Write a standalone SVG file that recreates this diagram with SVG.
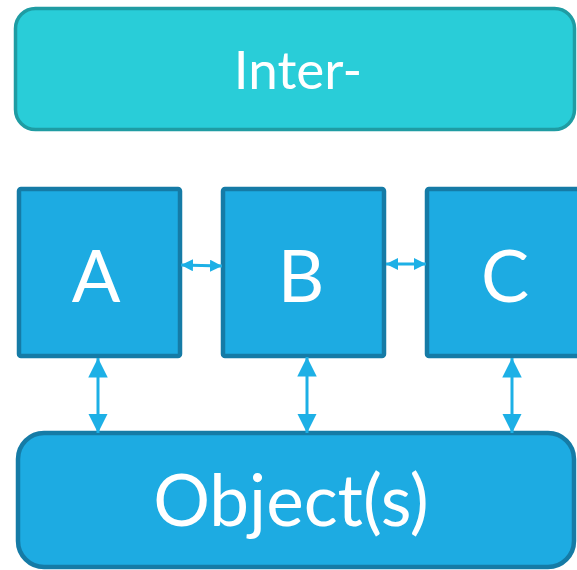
<svg xmlns="http://www.w3.org/2000/svg" width="577" height="570" viewBox="0 0 577 570">
<defs>
<style>
.top{fill:#29CDD8;stroke:#1F9CA3;stroke-width:3.5}
.box{fill:#1DABE2;stroke:#157BA6;stroke-width:4.5}
.lbl{fill:#fff;font-family:Lato,"Noto Sans",sans-serif;font-weight:400;text-anchor:middle}
.conn{stroke:#1DB0E6;stroke-width:3;fill:none}
.hd{fill:#1DB0E6}
</style>
<marker id="big" viewBox="0 0 10 10" refX="10" refY="5" markerWidth="6.5" markerHeight="6.5" orient="auto-start-reverse" markerUnits="strokeWidth">
<path d="M0,0 L10,5 L0,10 z" class="hd"/>
</marker>
<marker id="sm" viewBox="0 0 10 10" refX="10" refY="5" markerWidth="4" markerHeight="4" orient="auto-start-reverse" markerUnits="strokeWidth">
<path d="M0,0 L10,5 L0,10 z" class="hd"/>
</marker>
</defs>
<g id="inter">
<rect class="top" x="15.5" y="8.5" width="559" height="121" rx="20"/>
<text class="lbl" x="298" y="89" font-size="53">Inter-</text>
</g>
<g id="A">
<rect class="box" x="19" y="189" width="161" height="167" rx="2"/>
<text class="lbl" x="96" y="302" font-size="72">A</text>
</g>
<g id="B">
<rect class="box" x="223" y="189" width="161" height="167" rx="2"/>
<text class="lbl" x="301" y="302" font-size="72">B</text>
</g>
<g id="C">
<rect class="box" x="427" y="189" width="170" height="167" rx="2"/>
<text class="lbl" x="505" y="302" font-size="72">C</text>
</g>
<g id="objects">
<rect class="box" x="18" y="433" width="556" height="134" rx="26"/>
<text class="lbl" x="291" y="526" font-size="71">Object(s)</text>
</g>
<g id="connectors">
<line class="conn" x1="181" y1="265" x2="222" y2="266" marker-start="url(#sm)" marker-end="url(#sm)"/>
<line class="conn" x1="386" y1="264" x2="426" y2="264" marker-start="url(#sm)" marker-end="url(#sm)"/>
<line class="conn" x1="98" y1="358" x2="98" y2="433" marker-start="url(#big)" marker-end="url(#big)"/>
<line class="conn" x1="307" y1="357" x2="307" y2="433" marker-start="url(#big)" marker-end="url(#big)"/>
<line class="conn" x1="512" y1="358" x2="512" y2="433" marker-start="url(#big)" marker-end="url(#big)"/>
</g>
</svg>
